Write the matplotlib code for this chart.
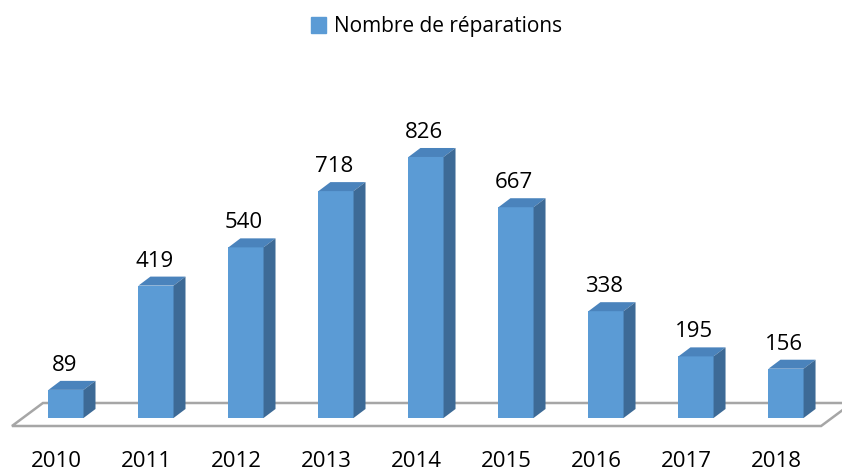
import matplotlib
matplotlib.use("Agg")
import matplotlib.pyplot as plt
from matplotlib.patches import Polygon, Patch

years = ["2010", "2011", "2012", "2013", "2014", "2015", "2016", "2017", "2018"]
values = [89, 419, 540, 718, 826, 667, 338, 195, 156]
series_name = "Nombre de réparations"

FRONT = "#5B9BD5"
TOP = "#4A83BC"
SIDE = "#3D6A96"
FLOOR = "#A6A6A6"

plt.rcParams['font.family'] = ['Open Sans', 'DejaVu Sans']

fig = plt.figure(figsize=(8.42, 4.71), dpi=100)
ax = fig.add_axes([0, 0, 1, 1])
ax.set_xlim(-0.733, 8.622)
ax.set_ylim(-167.7, 1322.8)
ax.axis('off')

w = 0.39      # bar width (category units)
dx = 0.133    # depth offset x
dy = 28.5     # depth offset y (value units)

# floor
floor = Polygon([(-0.6, -25.3), (8.39, -25.3), (8.734, 47.5), (-0.256, 47.5)],
                closed=True, facecolor="white", edgecolor=FLOOR, lw=1.8, zorder=1)
ax.add_patch(floor)

xs = list(range(len(values)))
ax.bar(xs, values, width=w, color=FRONT, zorder=3)
for x, v in zip(xs, values):
    top = Polygon([(x - w/2, v), (x + w/2, v), (x + w/2 + dx, v + dy), (x - w/2 + dx, v + dy)],
                  closed=True, facecolor=TOP, edgecolor="none", zorder=3)
    side = Polygon([(x + w/2, 0), (x + w/2 + dx, dy), (x + w/2 + dx, v + dy), (x + w/2, v)],
                   closed=True, facecolor=SIDE, edgecolor="none", zorder=3)
    ax.add_patch(top)
    ax.add_patch(side)
    ax.annotate(str(v), xy=(x - 0.02, v + dy), xytext=(0, 10), textcoords='offset pixels',
                ha='center', va='baseline', fontsize=16, color="black", zorder=4)

for x, yl in zip(xs, years):
    ax.text(x - 0.11, -155, yl, ha='center', va='baseline', fontsize=16, color="black")

ax.legend(handles=[Patch(color=FRONT, label=series_name)], loc='center',
          bbox_to_anchor=(0.518, 0.943), frameon=False, fontsize=15,
          handlelength=0.75, handleheight=0.75, handletextpad=0.35)

fig.savefig("out.png", dpi=100)
